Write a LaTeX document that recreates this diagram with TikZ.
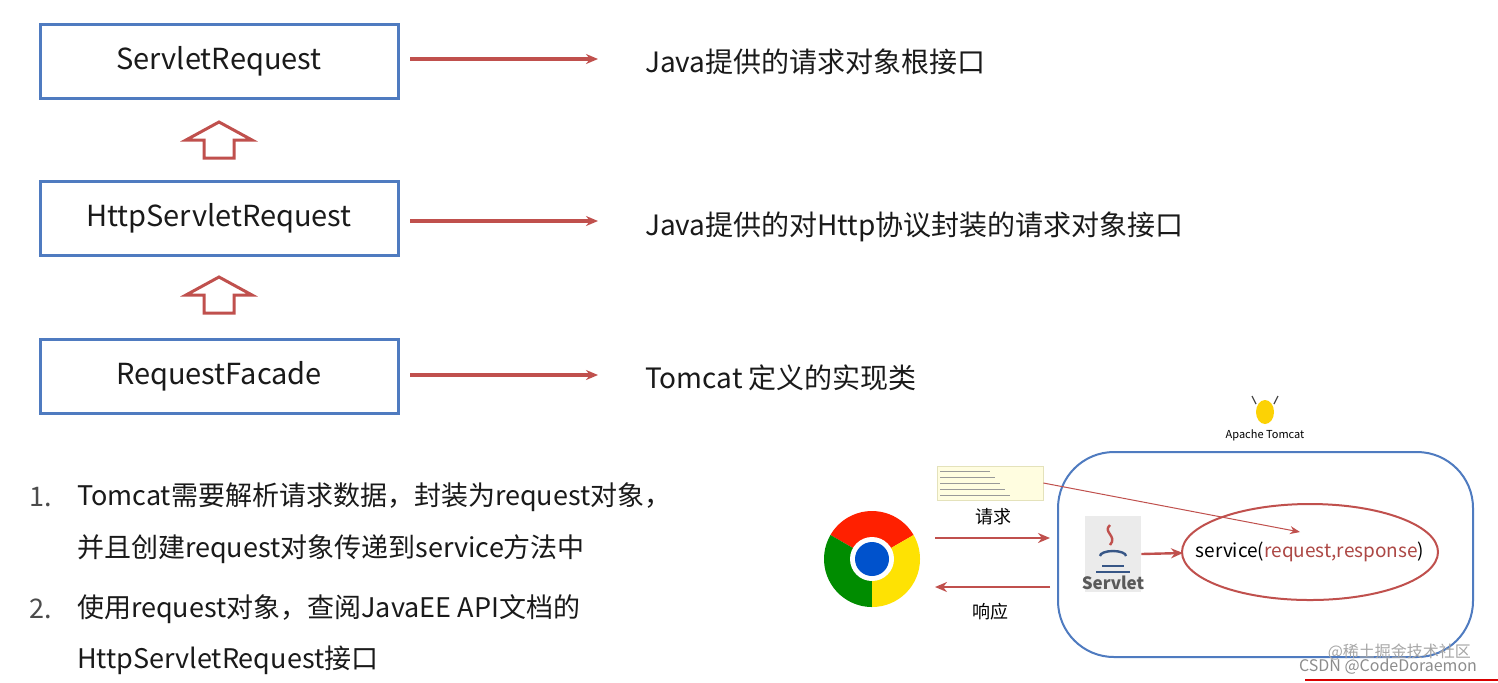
\documentclass[tikz,border=0pt]{standalone}
\usepackage{fontspec}
\setmainfont{Noto Sans CJK SC}
\usetikzlibrary{arrows.meta}
\definecolor{bl}{HTML}{4F7BC0}
\definecolor{rd}{HTML}{C0504D}
\definecolor{tx}{HTML}{1A1A1A}
\begin{document}
\begin{tikzpicture}[x=0.5pt,y=-0.5pt,
  cls/.style={draw=bl,line width=1.5pt,minimum width=179pt,minimum height=37pt,font=\fontsize{14.5}{16}\selectfont,text=tx},
  rarr/.style={draw=rd,line width=1.7pt,-{Stealth[length=6pt,width=5pt]}},
  desc/.style={anchor=west,font=\fontsize{14}{16}\selectfont,text=tx},
  lst/.style={anchor=west,font=\fontsize{13.5}{16}\selectfont,text=tx},
  hup/.style={draw=rd,line width=1.5pt,fill=white},
  sm/.style={font=\fontsize{9}{10}\selectfont,text=tx}]
\useasboundingbox (0,0) rectangle (1498,682);
\fill[white] (0,0) rectangle (1498,682);
\node[cls] (a) at (219,61) {ServletRequest};
\node[cls] (b) at (219,218) {HttpServletRequest};
\node[cls] (c) at (219,376) {RequestFacade};
\foreach \y in {122,277}{
  \draw[hup] (219,\y) -- (252,\y+18) -- (234,\y+18) -- (234,\y+36) -- (204,\y+36) -- (204,\y+18) -- (186,\y+18) -- cycle;}
\node[desc] (ta) at (638,62) {Java提供的请求对象根接口};
\node[desc] (tb) at (638,227) {Java提供的对Http协议封装的请求对象接口};
\node[desc] (tc) at (638,378) {Tomcat 定义的实现类};
\coordinate (ae) at (598,59); \coordinate (be) at (598,221); \coordinate (ce) at (598,375);
\draw[rarr] (410,59) -- (ae);
\draw[rarr] (410,221) -- (be);
\draw[rarr] (410,375) -- (ce);
\node[lst,text=black!70] at (22,497) {1.};
\node[lst] (l1) at (70,497) {Tomcat需要解析请求数据，封装为request对象，};
\node[lst] at (70,549) {并且创建request对象传递到service方法中};
\node[lst,text=black!70] at (22,609) {2.};
\node[lst] (l2) at (70,609) {使用request对象，查阅JavaEE API文档的};
\node[lst] at (70,660) {HttpServletRequest接口};
\draw[bl,line width=1pt,rounded corners=28pt] (1058,452) rectangle (1473,657);
\node[font=\fontsize{5.5}{6}\selectfont] (tl) at (1265,435) {Apache Tomcat};
\fill[yellow!70!orange] (1265,412) ellipse (9 and 12);
\draw[black!70,line width=0.6pt] (1256,404) -- (1252,396) (1274,404) -- (1278,396);
\coordinate (cc) at (872,559);
\fill[red!75!orange] (cc) -- ++(-30:48) arc[start angle=-30,end angle=-150,radius=48] -- cycle;
\fill[green!55!black] (cc) -- ++(-150:48) arc[start angle=-150,end angle=-270,radius=48] -- cycle;
\fill[yellow!85!orange] (cc) -- ++(90:48) arc[start angle=-270,end angle=-390,radius=48] -- cycle;
\fill[white] (cc) circle (22);
\fill[blue!60!cyan!80!black] (cc) circle (17);
\node[circle,minimum size=48pt] (chrome) at (cc) {};
\node[draw=yellow!60!black!30,fill=yellow!12,minimum width=53pt,minimum height=17pt,inner sep=0pt] (note) at (990,483) {};
\foreach \i in {0,...,4}{\draw[black!40,line width=0.3pt] (940,\i*6+471) -- (940+50+\i*5,\i*6+471);}
\node[font=\fontsize{9}{10}\selectfont] (req) at (993,517) {请求};
\node[font=\fontsize{9}{10}\selectfont] (resp) at (990,612) {响应};
\node[fill=black!8,minimum width=28pt,minimum height=38pt,inner sep=0pt] (sv) at (1113,554) {};
\node[font=\bfseries\fontsize{8.5}{9}\selectfont,text=black!65] at (1113,583) {Servlet};
\draw[rd,line width=1.2pt] (1110,525) .. controls (1102,532) and (1118,536) .. (1110,545);
\draw[bl!70!black,line width=1.2pt] (1100,556) arc[start angle=180,end angle=360,x radius=13,y radius=5];
\draw[bl!70!black,line width=1.2pt] (1102,566) -- (1124,566) (1096,572) -- (1130,572);
\draw[rd,line width=1pt] (1310,552) ellipse (128 and 48);
\node[font=\fontsize{9.5}{11}\selectfont] (svc) at (1310,552) {service(\textcolor{rd!90!black}{request,response})};
\coordinate (svin) at (1183,553);
\coordinate (chr) at (935,538); \coordinate (tcl) at (1050,538);
\coordinate (tcr) at (1050,587); \coordinate (chl) at (935,587);
\draw[rarr,line width=1.2pt] (chr) -- (tcl);
\draw[rarr,line width=1.2pt] (tcr) -- (chl);
\draw[rarr,line width=1.2pt] (sv.east) -- (svin);
\coordinate (tgt) at (1300,532);
\draw[rd,line width=0.5pt,-{Stealth[length=5pt,width=4pt]}] (note.east) -- (tgt);
\node[anchor=east,font=\fontsize{8}{9}\selectfont,text=black!35] at (1478,652) {@稀土掘金技术社区};
\node[anchor=east,font=\fontsize{8}{9}\selectfont,text=black!45] at (1484,666) {CSDN @CodeDoraemon};
\draw[red!85!black,line width=1.2pt] (1305,680) -- (1498,680);
\end{tikzpicture}
\end{document}
